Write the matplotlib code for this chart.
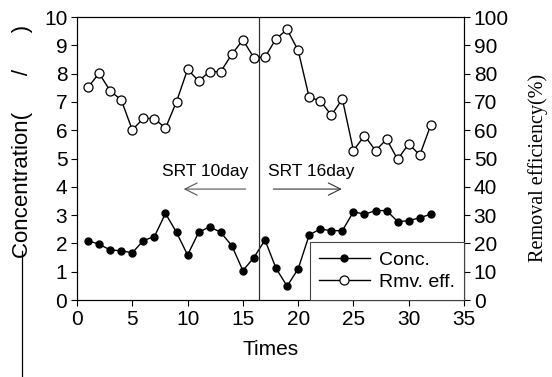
import numpy as np
import matplotlib.pyplot as plt
from matplotlib.lines import Line2D

# data
times = np.arange(1, 33)
conc = [2.10, 1.97, 1.77, 1.74, 1.67, 2.10, 2.24, 3.06, 2.39, 1.59, 2.39, 2.59,
        2.39, 1.92, 1.04, 1.50, 2.12, 1.12, 0.49, 1.10, 2.30, 2.51, 2.45, 2.45,
        3.12, 3.03, 3.16, 3.16, 2.77, 2.80, 2.91, 3.03]
rmv_eff = [75.2, 80.1, 73.9, 70.7, 60.1, 64.2, 64.1, 60.7, 70.1, 81.5, 77.4, 80.7,
           80.7, 86.8, 91.9, 85.6, 85.8, 92.3, 95.6, 88.2, 71.6, 70.4, 65.3, 71.0,
           52.8, 58.1, 52.8, 56.8, 49.7, 55.2, 51.2, 61.9]
xticks = [0, 5, 10, 15, 20, 25, 30, 35]
yticks_left = list(range(0, 11))
yticks_right = list(range(0, 101, 10))

plt.rcParams['font.family'] = ['Liberation Sans', 'DejaVu Sans']

fig = plt.figure(figsize=(5.52, 3.77), dpi=100)
ax = fig.add_axes([0.1395, 0.2042, 0.7011, 0.7507])
ax2 = ax.twinx()

l1, = ax.plot(times, conc, '-o', color='black', lw=1.0, ms=5,
              mfc='black', mec='black', label='Conc.')
l2, = ax2.plot(times, rmv_eff, '-o', color='black', lw=1.0, ms=6.5,
               mfc='white', mec='black', mew=0.9, label='Rmv. eff.')

ax.set_xlim(0, 35)
ax.set_ylim(0, 10)
ax2.set_ylim(0, 100)
ax.set_xticks(xticks)
ax.set_yticks(yticks_left)
ax2.set_yticks(yticks_right)

for a in (ax, ax2):
    a.tick_params(direction='out', length=4, width=0.8, labelsize=15, pad=3)
    for s in a.spines.values():
        s.set_linewidth(0.8)

# SRT switch line
ax.axvline(16.5, color='#333333', lw=0.9)

# SRT annotations
ax.text(11.6, 4.55, 'SRT 10day', fontsize=12.5, ha='center', va='center')
ax.text(21.2, 4.55, 'SRT 16day', fontsize=12.5, ha='center', va='center')
ax.annotate('', xy=(9.4, 3.92), xytext=(15.5, 3.92),
            arrowprops=dict(arrowstyle='->', color='#555555', lw=0.8,
                            mutation_scale=22))
ax.annotate('', xy=(24.2, 3.92), xytext=(17.5, 3.92),
            arrowprops=dict(arrowstyle='->', color='#333333', lw=0.8,
                            mutation_scale=22))

ax.set_xlabel('Times', fontsize=15, labelpad=8)
ax.set_ylabel('Concentration(      /      )', fontsize=16)
ax.yaxis.set_label_coords(-0.114, 0.56)
ax2.set_ylabel('Removal efficiency(%)', fontsize=14.5,
               family=['Liberation Serif', 'DejaVu Serif'])
ax2.yaxis.set_label_coords(1.165, 0.466)

leg = ax2.legend(handles=[l1, l2], loc='lower right', bbox_to_anchor=(1, 0),
                 borderaxespad=0, fontsize=14, fancybox=False, framealpha=1,
                 edgecolor='#444444', handlelength=2.6, handletextpad=0.5,
                 borderpad=0.45, labelspacing=0.25)
leg.get_frame().set_linewidth(0.8)

# scan artifact: vertical stroke running down from the left label
fig.add_artist(Line2D([0.04, 0.04], [0.0, 0.335], transform=fig.transFigure,
                      color='black', lw=0.9))

fig.savefig('out.png', dpi=100)
